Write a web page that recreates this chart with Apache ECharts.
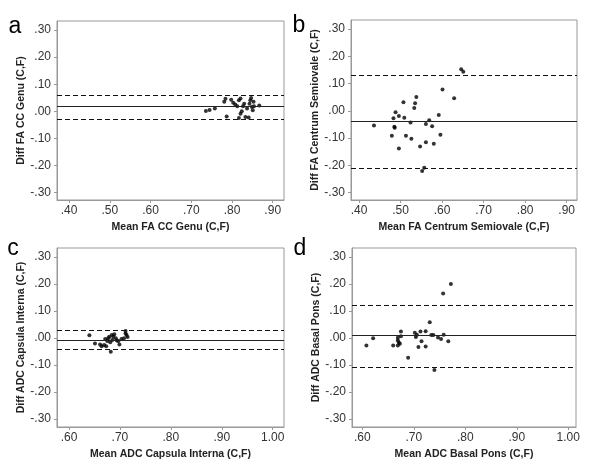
<!DOCTYPE html>
<html>
<head>
<meta charset="utf-8">
<script src="https://cdn.jsdelivr.net/npm/echarts@6/dist/echarts.min.js"></script>
<style>
html,body{margin:0;padding:0;background:#fff;}
#chart{width:600px;height:475px;}
</style>
</head>
<body>
<div id="chart"></div>
<script>
// ---- Data ----
var panelLetters = ['a', 'b', 'c', 'd'];
var xNames = ['Mean FA CC Genu (C,F)', 'Mean FA Centrum Semiovale (C,F)', 'Mean ADC Capsula Interna (C,F)', 'Mean ADC Basal Pons (C,F)'];
var yNames = ['Diff FA CC Genu (C,F)', 'Diff FA Centrum Semiovale (C,F)', 'Diff ADC Capsula Interna (C,F)', 'Diff ADC Basal Pons (C,F)'];

var xTicksFA = [0.40, 0.50, 0.60, 0.70, 0.80, 0.90];
var xTicksADC = [0.60, 0.70, 0.80, 0.90, 1.00];
var yTicks = [-0.30, -0.20, -0.10, 0.00, 0.10, 0.20, 0.30];

var pointsA = [
  [0.736, 0.001], [0.745, 0.005], [0.758, 0.010], [0.781, 0.035], [0.784, 0.046],
  [0.787, -0.019], [0.798, 0.043], [0.803, 0.032], [0.808, 0.025], [0.813, 0.019],
  [0.817, 0.041], [0.821, 0.047], [0.817, -0.025], [0.821, -0.009], [0.824, 0.000],
  [0.827, 0.019], [0.830, 0.028], [0.833, -0.021], [0.837, 0.010], [0.841, -0.023],
  [0.843, 0.028], [0.845, 0.041], [0.847, 0.049], [0.849, 0.016], [0.851, 0.004],
  [0.853, 0.035], [0.854, 0.019], [0.867, 0.021]
];
var pointsB = [
  [0.436, -0.054], [0.479, -0.091], [0.483, -0.027], [0.485, -0.058], [0.486, -0.062],
  [0.488, -0.005], [0.496, -0.019], [0.496, -0.138], [0.507, 0.031], [0.509, -0.025],
  [0.513, -0.091], [0.524, -0.043], [0.526, -0.102], [0.533, 0.010], [0.535, 0.028],
  [0.538, 0.051], [0.547, -0.131], [0.552, -0.221], [0.557, -0.209], [0.561, -0.048],
  [0.561, -0.115], [0.569, -0.035], [0.576, -0.057], [0.580, -0.121], [0.592, -0.015],
  [0.596, -0.088], [0.601, 0.078], [0.629, 0.046], [0.646, 0.152], [0.651, 0.143]
];
var pointsC = [
  [0.640, 0.010], [0.651, -0.020], [0.661, -0.024], [0.664, -0.030], [0.669, -0.026],
  [0.671, -0.004], [0.673, -0.030], [0.675, -0.011], [0.677, -0.001], [0.679, 0.005],
  [0.681, -0.016], [0.682, -0.051], [0.684, 0.011], [0.685, -0.007], [0.687, 0.005],
  [0.689, 0.014], [0.692, -0.001], [0.694, -0.009], [0.697, -0.011], [0.699, -0.024],
  [0.703, -0.004], [0.708, -0.001], [0.711, 0.026], [0.711, 0.017], [0.713, 0.011],
  [0.715, 0.004]
];
var pointsD = [
  [0.608, -0.028], [0.621, -0.001], [0.660, -0.028], [0.669, 0.001], [0.669, -0.009],
  [0.671, -0.017], [0.669, -0.028], [0.673, -0.021], [0.675, 0.024], [0.675, 0.007],
  [0.689, -0.073], [0.702, 0.020], [0.704, 0.004], [0.706, 0.012], [0.709, -0.033],
  [0.713, 0.024], [0.715, -0.012], [0.723, 0.025], [0.723, -0.031], [0.731, 0.059],
  [0.734, 0.011], [0.738, 0.011], [0.740, -0.119], [0.747, 0.002], [0.753, -0.004],
  [0.757, 0.165], [0.758, 0.012], [0.767, -0.012], [0.772, 0.200]
];

// mean difference and limits of agreement [lower, mean, upper]
var limitsA = [-0.026, 0.018, 0.062];
var limitsB = [-0.215, -0.041, 0.132];
var limitsC = [-0.041, -0.007, 0.026];
var limitsD = [-0.109, 0.006, 0.120];

// ---- Layout ----
var panels = [
  {pts: pointsA, lim: limitsA, xt: xTicksFA, xmin: 0.3705, xmax: 0.9277, ymin: -0.327, ymax: 0.333,
   grid: {left: 57, right: 316, top: 21, bottom: 275}, letter: [15, 27]},
  {pts: pointsB, lim: limitsB, xt: xTicksFA, xmin: 0.3807, xmax: 0.9248, ymin: -0.327, ymax: 0.333,
   grid: {left: 351, right: 23, top: 20, bottom: 275}, letter: [299, 26]},
  {pts: pointsC, lim: limitsC, xt: xTicksADC, xmin: 0.5764, xmax: 1.0222, ymin: -0.330, ymax: 0.334,
   grid: {left: 57, right: 316, top: 248, bottom: 48}, letter: [13, 249]},
  {pts: pointsD, lim: limitsD, xt: xTicksADC, xmin: 0.580, xmax: 1.015, ymin: -0.330, ymax: 0.334,
   grid: {left: 352, right: 24, top: 248, bottom: 48}, letter: [300, 249]}
];

function fmt(v) {
  var s = Math.abs(v).toFixed(2);
  if (s.charAt(0) === '0') s = s.slice(1);
  return (v < -1e-9 ? '-' : '') + s;
}

var FONT = '"Liberation Sans", Arial, sans-serif';
var grids = [], xAxes = [], yAxes = [], series = [], graphics = [];

panels.forEach(function (p, i) {
  grids.push({left: p.grid.left, right: p.grid.right, top: p.grid.top, bottom: p.grid.bottom,
    show: true, borderColor: '#999', borderWidth: 1, backgroundColor: '#fff'});
  xAxes.push({
    type: 'value', gridIndex: i, min: p.xmin, max: p.xmax,
    name: xNames[i], nameLocation: 'middle', nameGap: 22,
    nameTextStyle: {fontFamily: FONT, fontSize: 10.5, fontWeight: 'bold', color: '#222'},
    axisLine: {show: true, onZero: false, lineStyle: {color: '#999'}},
    axisTick: {show: true, length: 3, lineStyle: {color: '#999'}, customValues: p.xt},
    axisLabel: {customValues: p.xt, formatter: fmt, margin: 5, fontFamily: FONT, fontSize: 12, color: '#333'},
    splitLine: {show: false}
  });
  yAxes.push({
    type: 'value', gridIndex: i, min: p.ymin, max: p.ymax,
    name: yNames[i], nameLocation: 'middle', nameGap: 28, nameRotate: 90,
    nameTextStyle: {fontFamily: FONT, fontSize: 10.5, fontWeight: 'bold', color: '#222'},
    axisLine: {show: true, onZero: false, lineStyle: {color: '#999'}},
    axisTick: {show: true, length: 3, lineStyle: {color: '#999'}, customValues: yTicks},
    axisLabel: {customValues: yTicks, formatter: fmt, margin: 6, fontFamily: FONT, fontSize: 12, color: '#333'},
    splitLine: {show: false}
  });
  series.push({
    type: 'scatter', xAxisIndex: i, yAxisIndex: i, data: p.pts,
    symbol: 'circle', symbolSize: 4, itemStyle: {color: '#000'}, silent: true,
    markLine: {
      silent: true, symbol: 'none', label: {show: false}, animation: false,
      data: [
        {yAxis: p.lim[0], lineStyle: {color: '#111', width: 1, type: [5, 3]}},
        {yAxis: p.lim[1], lineStyle: {color: '#222', width: 1, type: 'solid'}},
        {yAxis: p.lim[2], lineStyle: {color: '#111', width: 1, type: [5, 3]}}
      ]
    }
  });
  graphics.push({
    type: 'text', x: p.letter[0], y: p.letter[1],
    style: {text: panelLetters[i], font: '23px ' + FONT, fill: '#000', align: 'center', verticalAlign: 'middle'}
  });
});

var chart = echarts.init(document.getElementById('chart'), null, {renderer: 'canvas'});
chart.setOption({
  animation: false,
  backgroundColor: '#fff',
  grid: grids, xAxis: xAxes, yAxis: yAxes, series: series, graphic: graphics
});
</script>
</body>
</html>
